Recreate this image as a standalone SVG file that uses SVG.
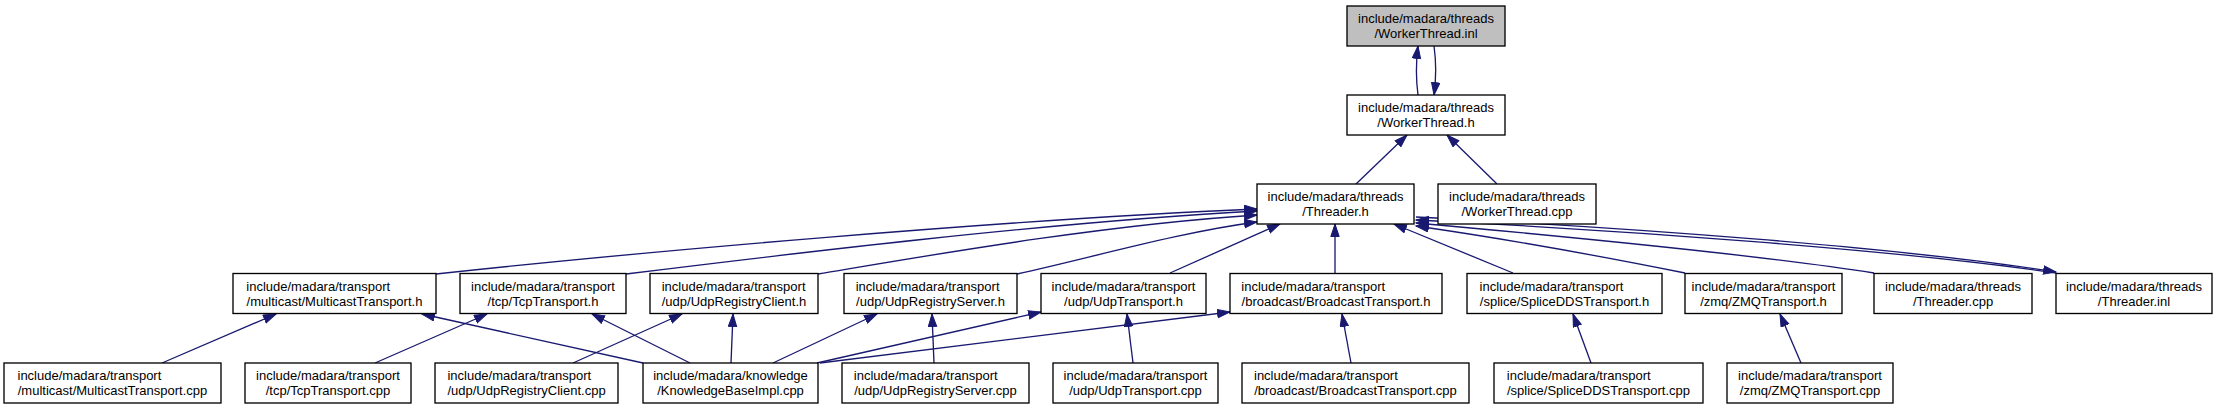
<svg xmlns="http://www.w3.org/2000/svg" width="2219" height="409" viewBox="0 0 2219 409">
<style>
.n rect{fill:#ffffff;stroke:#000000;stroke-width:1.33}
.n.root rect{fill:#bfbfbf}
.n text{font-family:"Liberation Sans",Arial,Helvetica,sans-serif;font-size:13px;fill:#000000}
.c{text-anchor:middle}
.e path{fill:none;stroke:#191970;stroke-width:1.33;marker-end:url(#ah)}
</style>
<defs>
<marker id="ah" markerUnits="userSpaceOnUse" markerWidth="15" markerHeight="11" refX="13" refY="4.7" orient="auto">
<path d="M0.5,0.5 L13,4.7 L0.5,8.9 Z" fill="#191970" stroke="#191970" stroke-width="1"/>
</marker>
</defs>
<rect x="0" y="0" width="2219" height="409" fill="#ffffff"/>
<g class="e" id="edges">
<path d="M1418,95 C1416,80 1416,62 1418,46"/>
<path d="M1434,46 C1436,60 1436,80 1434,95"/>
<path d="M1356,184 L1407,135"/>
<path d="M1497,184 L1447,135"/>
<path d="M436,274 C640,252 1000,220 1257,209"/>
<path d="M626,274 C780,255 1050,222 1257,211"/>
<path d="M818,274 C920,257 1100,225 1257,215"/>
<path d="M1017,274 C1090,258 1180,232 1257,222"/>
<path d="M1170,273 L1280,224"/>
<path d="M1335,273 L1335,224"/>
<path d="M1513,273 L1394,224"/>
<path d="M1685,273 C1600,256 1500,238 1416,226"/>
<path d="M1874,273 C1760,255 1560,236 1416,223"/>
<path d="M2056,273 C1900,250 1620,230 1416,220"/>
<path d="M1416,217 C1620,227 1900,247 2056,272"/>
<path d="M162,363 L276,314"/>
<path d="M643,363 L422,314"/>
<path d="M375,363 L487,314"/>
<path d="M690,363 L592,314"/>
<path d="M573,363 L682,314"/>
<path d="M731,363 L733,314"/>
<path d="M773,363 L877,314"/>
<path d="M934,363 L932,314"/>
<path d="M817,363 L1041,312"/>
<path d="M820,363 L1230,312"/>
<path d="M1133,363 L1127,314"/>
<path d="M1351,363 L1342,314"/>
<path d="M1591,363 L1573,314"/>
<path d="M1801,363 L1780,314"/>
</g>
<g class="n root" id="node1"><rect x="1347" y="6" width="158" height="40"/><text class="c" x="1426" y="23">include/madara/threads</text><text class="c" x="1426" y="38">/WorkerThread.inl</text></g>
<g class="n" id="node2"><rect x="1347" y="95" width="158" height="40"/><text class="c" x="1426" y="112">include/madara/threads</text><text class="c" x="1426" y="127">/WorkerThread.h</text></g>
<g class="n" id="node3"><rect x="1257" y="184" width="157" height="40"/><text class="c" x="1335.5" y="201">include/madara/threads</text><text class="c" x="1335.5" y="216">/Threader.h</text></g>
<g class="n" id="node4"><rect x="1438" y="184" width="158" height="40"/><text class="c" x="1517" y="201">include/madara/threads</text><text class="c" x="1517" y="216">/WorkerThread.cpp</text></g>
<g class="n" id="node5"><rect x="233" y="273.5" width="203" height="40"/><text x="246.3" y="290.5">include/madara/transport</text><text class="c" x="334.5" y="305.5">/multicast/MulticastTransport.h</text></g>
<g class="n" id="node6"><rect x="460" y="273.5" width="166" height="40"/><text class="c" x="543" y="290.5">include/madara/transport</text><text class="c" x="543" y="305.5">/tcp/TcpTransport.h</text></g>
<g class="n" id="node7"><rect x="650" y="273.5" width="168" height="40"/><text x="661.7" y="290.5">include/madara/transport</text><text class="c" x="734" y="305.5">/udp/UdpRegistryClient.h</text></g>
<g class="n" id="node8"><rect x="844" y="273.5" width="173" height="40"/><text x="855.7" y="290.5">include/madara/transport</text><text class="c" x="930.5" y="305.5">/udp/UdpRegistryServer.h</text></g>
<g class="n" id="node9"><rect x="1041" y="273.5" width="165" height="40"/><text class="c" x="1123.5" y="290.5">include/madara/transport</text><text class="c" x="1123.5" y="305.5">/udp/UdpTransport.h</text></g>
<g class="n" id="node10"><rect x="1230" y="273.5" width="212" height="40"/><text x="1241.3" y="290.5">include/madara/transport</text><text class="c" x="1336" y="305.5">/broadcast/BroadcastTransport.h</text></g>
<g class="n" id="node11"><rect x="1467" y="273.5" width="195" height="40"/><text x="1479.6" y="290.5">include/madara/transport</text><text class="c" x="1564.5" y="305.5">/splice/SpliceDDSTransport.h</text></g>
<g class="n" id="node12"><rect x="1685" y="273.5" width="157" height="40"/><text class="c" x="1763.5" y="290.5">include/madara/transport</text><text class="c" x="1763.5" y="305.5">/zmq/ZMQTransport.h</text></g>
<g class="n" id="node13"><rect x="1874" y="273.5" width="158" height="40"/><text class="c" x="1953" y="290.5">include/madara/threads</text><text class="c" x="1953" y="305.5">/Threader.cpp</text></g>
<g class="n" id="node14"><rect x="2056" y="273.5" width="156" height="40"/><text class="c" x="2134" y="290.5">include/madara/threads</text><text class="c" x="2134" y="305.5">/Threader.inl</text></g>
<g class="n" id="node15"><rect x="4" y="363" width="217" height="40"/><text x="17.5" y="380">include/madara/transport</text><text class="c" x="112.5" y="395">/multicast/MulticastTransport.cpp</text></g>
<g class="n" id="node16"><rect x="245" y="363" width="166" height="40"/><text class="c" x="328" y="380">include/madara/transport</text><text class="c" x="328" y="395">/tcp/TcpTransport.cpp</text></g>
<g class="n" id="node17"><rect x="435" y="363" width="183" height="40"/><text x="447.4" y="380">include/madara/transport</text><text class="c" x="526.5" y="395">/udp/UdpRegistryClient.cpp</text></g>
<g class="n" id="node18"><rect x="643" y="363" width="175" height="40"/><text class="c" x="730.5" y="380">include/madara/knowledge</text><text class="c" x="730.5" y="395">/KnowledgeBaseImpl.cpp</text></g>
<g class="n" id="node19"><rect x="842" y="363" width="187" height="40"/><text x="853.8" y="380">include/madara/transport</text><text class="c" x="935.5" y="395">/udp/UdpRegistryServer.cpp</text></g>
<g class="n" id="node20"><rect x="1053" y="363" width="165" height="40"/><text class="c" x="1135.5" y="380">include/madara/transport</text><text class="c" x="1135.5" y="395">/udp/UdpTransport.cpp</text></g>
<g class="n" id="node21"><rect x="1242" y="363" width="227" height="40"/><text x="1254" y="380">include/madara/transport</text><text class="c" x="1355.5" y="395">/broadcast/BroadcastTransport.cpp</text></g>
<g class="n" id="node22"><rect x="1494" y="363" width="209" height="40"/><text x="1506.8" y="380">include/madara/transport</text><text class="c" x="1598.5" y="395">/splice/SpliceDDSTransport.cpp</text></g>
<g class="n" id="node23"><rect x="1727" y="363" width="166" height="40"/><text class="c" x="1810" y="380">include/madara/transport</text><text class="c" x="1810" y="395">/zmq/ZMQTransport.cpp</text></g>
</svg>
